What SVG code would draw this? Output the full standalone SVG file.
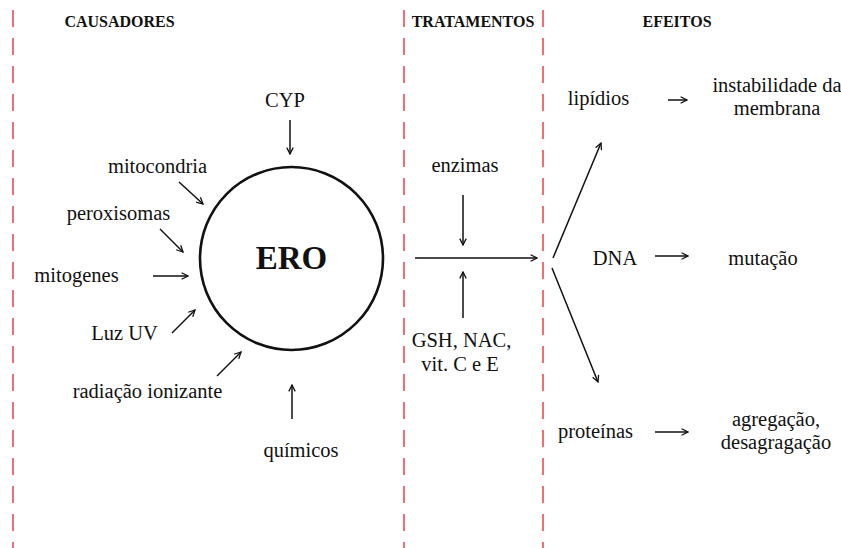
<svg xmlns="http://www.w3.org/2000/svg" width="841" height="548" viewBox="0 0 841 548">
  <defs>
    <marker id="head" viewBox="0 0 10 10" refX="9" refY="5" markerWidth="8" markerHeight="8" markerUnits="userSpaceOnUse" orient="auto">
      <path d="M1,1 L9,5 L1,9" fill="none" stroke="#111" stroke-width="1.6"/>
    </marker>
  </defs>
  <style>
    .sep { stroke: #ee4b58; stroke-width: 1.6; stroke-dasharray: 17 11; }
    .hdr { font-family: "Liberation Serif", "Times New Roman", serif; font-weight: bold; font-size: 16px; fill: #111; text-anchor: middle; }
    .lbl { font-family: "Liberation Serif", "Times New Roman", serif; font-size: 20.5px; fill: #111; text-anchor: middle; }
    .arr { stroke: #111; stroke-width: 1.5; fill: none; marker-end: url(#head); }
    .ln { stroke: #111; stroke-width: 1.5; fill: none; }
  </style>
  <rect width="841" height="548" fill="#fff"/>

  <!-- column separators -->
  <g id="separators">
    <line class="sep" x1="13" y1="10" x2="13" y2="548"/>
    <line class="sep" x1="404" y1="10" x2="404" y2="548"/>
    <line class="sep" x1="543" y1="10" x2="543" y2="548"/>
  </g>

  <!-- column headers -->
  <g id="headers">
    <text class="hdr" x="119.5" y="27">CAUSADORES</text>
    <text class="hdr" x="473" y="27">TRATAMENTOS</text>
    <text class="hdr" x="677" y="27">EFEITOS</text>
  </g>

  <!-- central node -->
  <g id="ero">
    <circle cx="291.5" cy="258.5" r="91.5" fill="none" stroke="#111" stroke-width="2.6"/>
    <text x="291.5" y="269" font-family="'Liberation Serif', 'Times New Roman', serif" font-weight="bold" font-size="33" text-anchor="middle" fill="#111">ERO</text>
  </g>

  <!-- sources -->
  <g id="cyp"><text class="lbl" x="285" y="107">CYP</text></g>
  <g id="mitocondria"><text class="lbl" x="157.5" y="173">mitocondria</text></g>
  <g id="peroxisomas"><text class="lbl" x="118.5" y="220">peroxisomas</text></g>
  <g id="mitogenes"><text class="lbl" x="76.5" y="282">mitogenes</text></g>
  <g id="luz-uv"><text class="lbl" x="124.5" y="340">Luz UV</text></g>
  <g id="radiacao"><text class="lbl" x="147.5" y="398">radiação ionizante</text></g>
  <g id="quimicos"><text class="lbl" x="301" y="457">químicos</text></g>

  <!-- treatments -->
  <g id="enzimas"><text class="lbl" x="465" y="172">enzimas</text></g>
  <g id="antioxidantes">
    <text class="lbl" x="461.5" y="347">GSH, NAC,</text>
    <text class="lbl" x="460" y="371">vit. C e E</text>
  </g>

  <!-- targets and effects -->
  <g id="lipidios"><text class="lbl" x="598.5" y="105">lipídios</text></g>
  <g id="instabilidade">
    <text class="lbl" x="777" y="92">instabilidade da</text>
    <text class="lbl" x="777" y="115">membrana</text>
  </g>
  <g id="dna"><text class="lbl" x="615" y="265">DNA</text></g>
  <g id="mutacao"><text class="lbl" x="763" y="265">mutação</text></g>
  <g id="proteinas"><text class="lbl" x="595.5" y="438">proteínas</text></g>
  <g id="agregacao">
    <text class="lbl" x="776" y="426">agregação,</text>
    <text class="lbl" x="776" y="449">desagragação</text>
  </g>

  <!-- connectors -->
  <g id="connectors">
    <line class="arr" x1="290" y1="120" x2="290" y2="154"/>
    <line class="arr" x1="179" y1="182" x2="203" y2="204"/>
    <line class="arr" x1="160" y1="229" x2="183" y2="252"/>
    <line class="arr" x1="153" y1="276" x2="188" y2="276"/>
    <line class="arr" x1="172" y1="333" x2="195" y2="310"/>
    <line class="arr" x1="217" y1="376" x2="241" y2="352"/>
    <line class="arr" x1="292" y1="419" x2="292" y2="385"/>

    <line class="arr" x1="463" y1="195" x2="463" y2="245"/>
    <line class="arr" x1="463" y1="318" x2="463" y2="272"/>
    <line class="arr" x1="415" y1="258" x2="537" y2="258"/>

    <line class="arr" x1="553" y1="258" x2="601" y2="143"/>
    <line class="arr" x1="552" y1="268" x2="598" y2="382"/>

    <line class="arr" x1="668" y1="100" x2="687" y2="100"/>
    <line class="arr" x1="655" y1="256" x2="688" y2="256"/>
    <line class="arr" x1="655" y1="432" x2="688" y2="432"/>
  </g>
</svg>
